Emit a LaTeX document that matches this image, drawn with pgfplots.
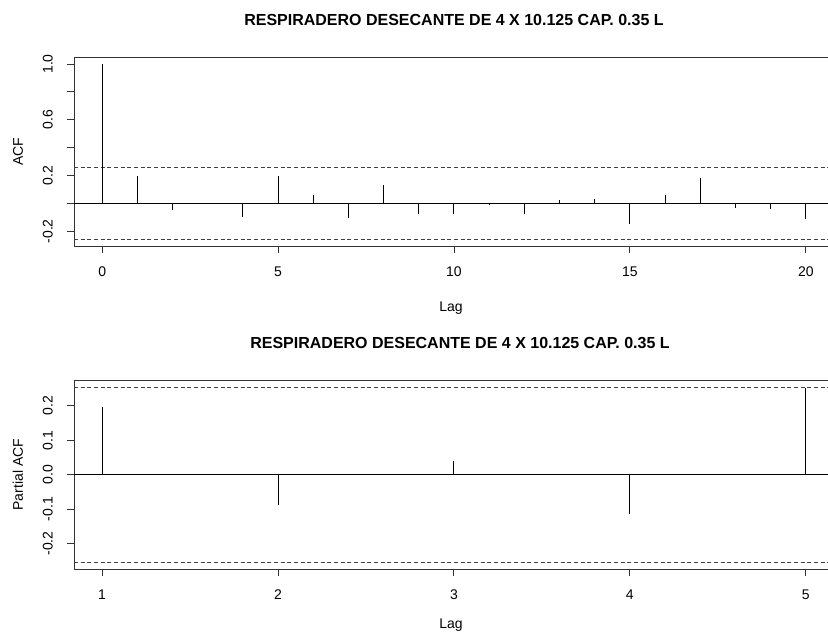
\documentclass[border=0pt]{standalone}
\usepackage{fontspec}
\setmainfont{Liberation Sans}
\usepackage{pgfplots}
\pgfplotsset{compat=1.18}
\begin{document}
\begin{tikzpicture}
\pgfplotsset{
 racf/.style={
  scale only axis, width=565.5pt, anchor=south west,
  axis x line=box, axis y line=left,
  x axis line style={-}, y axis line style={-},
  axis line style={draw=black!80, line width=0.7pt},
  xtick pos=left, ytick pos=left,
  tick align=outside, major tick length=5.25pt,
  tick style={draw=black!80, line width=0.7pt},
  /pgf/number format/assume math mode=true,
  tick label style={font=\fontsize{10.5}{12}\selectfont, inner sep=0pt},
  label style={font=\fontsize{10.5}{12}\selectfont},
  xticklabel style={anchor=north, yshift=-10pt},
  yticklabel style={xshift=-10.5pt, rotate=90, anchor=south},
  xlabel style={at={(axis description cs:0.5,-0.328)}, anchor=center},
  ylabel style={at={(axis description cs:-0.0743,0.5)}, anchor=center},
  title style={font=\fontsize{12}{14}\selectfont\bfseries, anchor=center, yshift=-6pt},
  clip=false,
 }
}
\path[use as bounding box] (0,0) rectangle (621pt,474.75pt);
\begin{axis}[racf, at={(55.5pt,290.25pt)}, height=141.75pt,
  xmin=-0.8, xmax=20.63, ymin=-0.305, ymax=1.05,
  xtick={0,5,10,15,20}, xticklabels={0,5,10,15,20},
  ytick={-0.2,0,0.2,0.4,0.6,0.8,1.0}, yticklabels={-0.2,,0.2,,0.6,,1.0},
  xlabel={Lag}, ylabel={ACF},
  title={RESPIRADERO DESECANTE DE 4 X 10.125 CAP. 0.35 L},
  title style={at={(axis description cs:0.504,1.196)}}]
\addplot[black, line width=0.75pt] coordinates {(-0.8,0) (20.63,0)};
\addplot[black!75, line width=0.7pt, dash pattern=on 3pt off 2pt] coordinates {(-0.8,0.255) (20.63,0.255)};
\addplot[black!75, line width=0.7pt, dash pattern=on 3pt off 2pt] coordinates {(-0.8,-0.255) (20.63,-0.255)};
\addplot[ycomb, black, line width=0.75pt, mark=none] coordinates {
(0,1.0) (1,0.196) (2,-0.05) (3,0.004) (4,-0.095) (5,0.196) (6,0.06) (7,-0.103)
(8,0.131) (9,-0.072) (10,-0.072) (11,-0.012) (12,-0.076) (13,0.026) (14,0.031)
(15,-0.146) (16,0.062) (17,0.184) (18,-0.036) (19,-0.038) (20,-0.11)};
\end{axis}
\begin{axis}[racf, at={(55.5pt,47.75pt)}, height=142pt,
  xmin=0.84, xmax=5.127, ymin=-0.2754, ymax=0.2754,
  xtick={1,2,3,4,5}, xticklabels={1,2,3,4,5},
  ytick={-0.2,-0.1,0,0.1,0.2}, yticklabels={-0.2,-0.1,0.0,0.1,0.2},
  xlabel={Lag}, ylabel={Partial ACF},
  xlabel style={at={(axis description cs:0.5,-0.295)}},
  title={RESPIRADERO DESECANTE DE 4 X 10.125 CAP. 0.35 L},
  title style={at={(axis description cs:0.512,1.198)}}]
\addplot[black, line width=0.75pt] coordinates {(0.84,0) (5.127,0)};
\addplot[black!75, line width=0.7pt, dash pattern=on 3pt off 2pt] coordinates {(0.84,0.254) (5.127,0.254)};
\addplot[black!75, line width=0.7pt, dash pattern=on 3pt off 2pt] coordinates {(0.84,-0.254) (5.127,-0.254)};
\addplot[ycomb, black, line width=0.75pt, mark=none] coordinates {
(1,0.197) (2,-0.089) (3,0.040) (4,-0.115) (5,0.253)};
\end{axis}
\end{tikzpicture}
\end{document}
